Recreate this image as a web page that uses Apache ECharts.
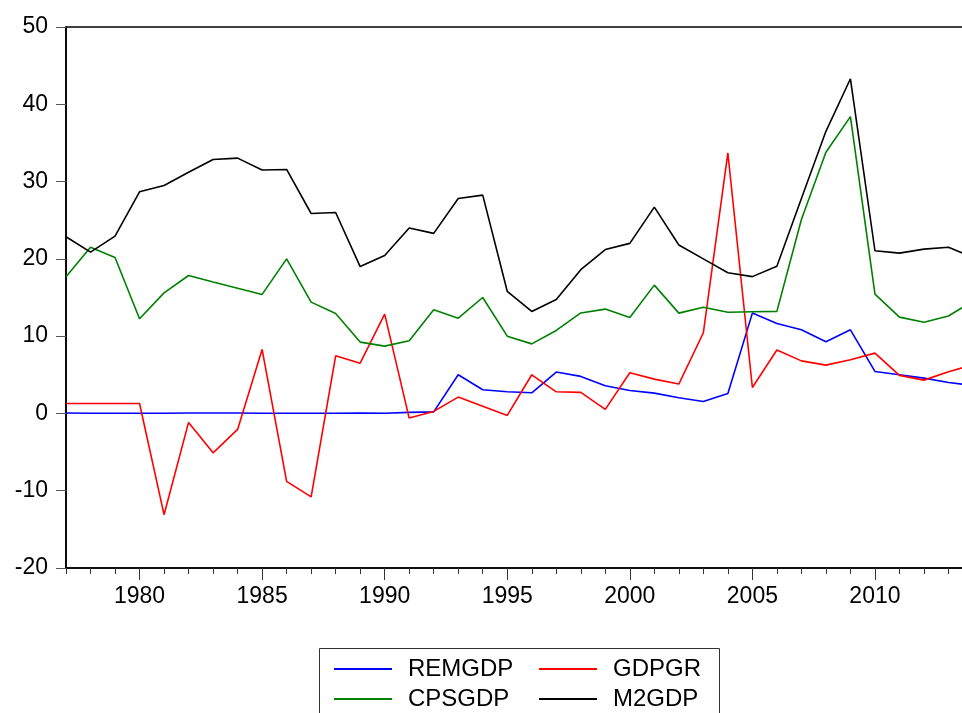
<!DOCTYPE html>
<html>
<head>
<meta charset="utf-8">
<script src="https://cdn.jsdelivr.net/npm/echarts@6/dist/echarts.min.js"></script>
<style>
  html, body { margin: 0; padding: 0; background: #fff; }
  #chart { width: 962px; height: 713px; }
</style>
</head>
<body>
<div id="chart"></div>
<script>
// years 1977..2014
const years = [];
for (let y = 1977; y <= 2014; y++) years.push(String(y));

const remgdp = [0.05, 0.02, 0.02, 0.02, 0.02, 0.05, 0.05, 0.05, 0.02, 0.02, 0.02, 0.02, 0.05,
  0.03, 0.13, 0.2, 5.0, 3.06, 2.8, 2.67, 5.35, 4.79, 3.58, 2.97, 2.63, 2.03, 1.55, 2.59,
  12.98, 11.64, 10.82, 9.27, 10.82, 5.43, 5.0, 4.57, 4.0, 3.62];
const gdpgr = [1.29, 1.29, 1.29, 1.29, -13.1, -1.16, -5.1, -2.07, 8.28, -8.8, -10.8, 7.46, 6.5,
  12.85, -0.6, 0.26, 2.11, 0.93, -0.26, 5.0, 2.8, 2.72, 0.52, 5.26, 4.44, 3.8, 10.44, 33.7,
  3.36, 8.2, 6.8, 6.25, 6.95, 7.8, 4.92, 4.31, 5.4, 6.3];
const cpsgdp = [17.68, 21.5, 20.18, 12.25, 15.6, 17.85, 17.0, 16.2, 15.4, 20.0, 14.4, 12.94, 9.23,
  8.71, 9.4, 13.4, 12.33, 15.0, 10.0, 9.0, 10.74, 13.0, 13.5, 12.42, 16.6, 12.98, 13.75, 13.1,
  13.15, 13.2, 25.1, 33.8, 38.4, 15.43, 12.46, 11.8, 12.6, 14.55];
const m2gdp = [22.86, 20.87, 22.94, 28.68, 29.5, 31.2, 32.86, 33.03, 31.5, 31.57, 25.87, 26.0, 19.0,
  20.44, 24.0, 23.3, 27.8, 28.25, 15.8, 13.2, 14.75, 18.6, 21.2, 22.0, 26.7, 21.8, 20.0, 18.2,
  17.7, 19.05, 27.8, 36.5, 43.3, 21.05, 20.74, 21.26, 21.5, 20.2];

const font = 'Liberation Sans, Arial, sans-serif';
const everyFifth = (i, v) => Number(v) % 5 === 0;

const chart = echarts.init(document.getElementById('chart'));

const line = (name, data, color) => ({
  name, type: 'line', data,
  xAxisIndex: 0,
  showSymbol: false, symbol: 'none',
  lineStyle: { width: 1.6, color },
  itemStyle: { color },
  animation: false
});

const legendBase = {
  orient: 'vertical',
  top: 657,
  height: 60,
  padding: 0,
  itemWidth: 58,
  itemHeight: 2,
  itemGap: 6,
  icon: 'rect',
  selectedMode: false,
  textStyle: { fontFamily: font, fontSize: 24, color: '#000', lineHeight: 24, padding: [0, 0, 0, 11] }
};

chart.setOption({
  animation: false,
  grid: {
    left: 66, top: 27, width: 907, height: 541,
    outerBoundsMode: 'none',
    containLabel: false,
    show: true, borderColor: '#000', borderWidth: 1.6
  },
  legend: [
    Object.assign({}, legendBase, { left: 334, data: ['REMGDP', 'CPSGDP'] }),
    Object.assign({}, legendBase, { left: 539, data: ['GDPGR', 'M2GDP'] })
  ],
  graphic: [{
    type: 'rect',
    shape: { x: 319.5, y: 648.5, width: 400, height: 100 },
    style: { fill: 'none', stroke: '#333', lineWidth: 1 },
    silent: true
  }],
  xAxis: [{
    type: 'category',
    data: years,
    boundaryGap: false,
    axisLine: { onZero: false, lineStyle: { color: '#000', width: 1.6 } },
    axisTick: { interval: 0, length: 6, lineStyle: { color: '#333' } },
    axisLabel: { interval: everyFifth, margin: 17, fontFamily: font, fontSize: 23, color: '#000' },
    splitLine: { show: false }
  }, {
    type: 'category',
    data: years,
    boundaryGap: false,
    position: 'bottom',
    gridIndex: 0,
    axisLine: { show: false, onZero: false },
    axisTick: { interval: everyFifth, length: 12, lineStyle: { color: '#333' } },
    axisLabel: { show: false },
    splitLine: { show: false }
  }],
  yAxis: {
    type: 'value',
    min: -20, max: 50, interval: 10,
    axisLine: { show: true, onZero: false, lineStyle: { color: '#000', width: 1.6 } },
    axisTick: { show: true, length: 10, lineStyle: { color: '#555' } },
    axisLabel: { margin: 18, fontFamily: font, fontSize: 23, color: '#000' },
    splitLine: { show: false }
  },
  series: [
    line('REMGDP', remgdp, '#0000ff'),
    line('GDPGR', gdpgr, '#ff0000'),
    line('CPSGDP', cpsgdp, '#008000'),
    line('M2GDP', m2gdp, '#000000')
  ]
});
</script>
</body>
</html>
